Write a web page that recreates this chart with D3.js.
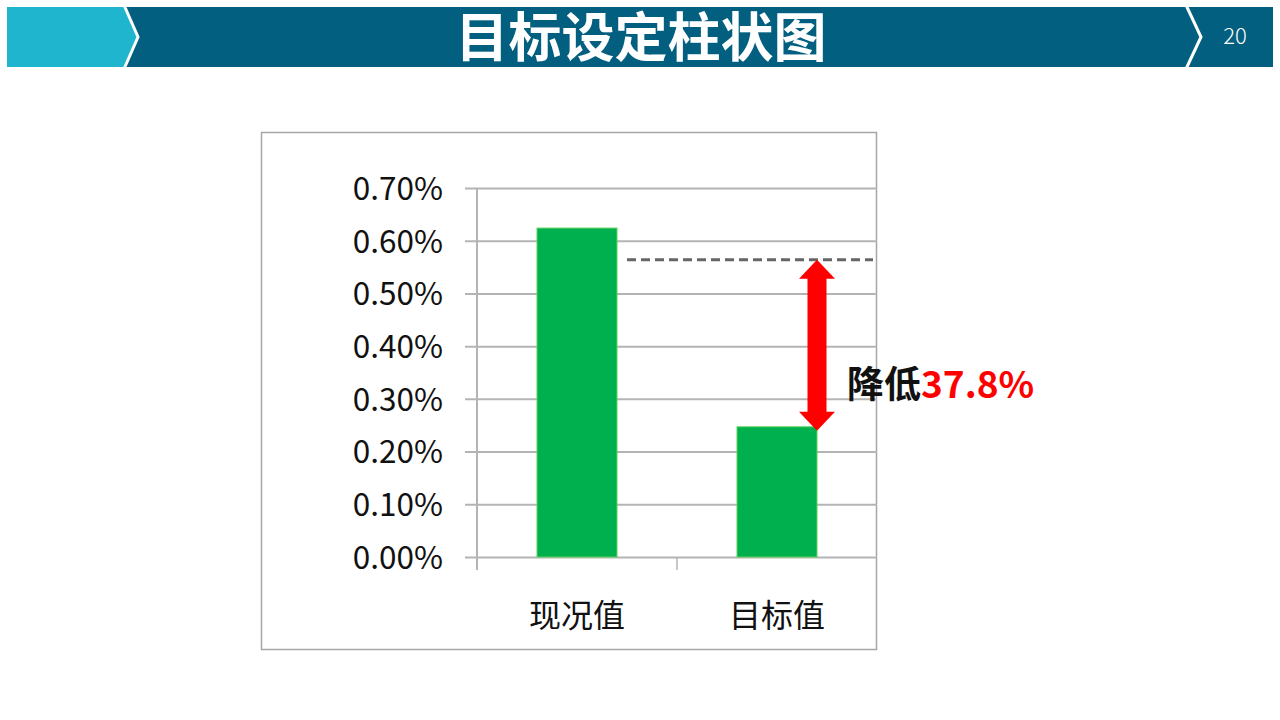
<!DOCTYPE html>
<html>
<head>
<meta charset="utf-8">
<script src="https://cdn.jsdelivr.net/npm/d3@7"></script>
<style>
  html, body { margin: 0; padding: 0; background: #fff; }
  svg { display: block; }
  text { font-family: "Noto Sans CJK SC", "Noto Sans", sans-serif; }
</style>
</head>
<body>
<div id="chart"></div>
<script>
// data
const categories = ['现况值', '目标值'];
const values = [0.00624, 0.00247];
const yTicks = [0, 0.001, 0.002, 0.003, 0.004, 0.005, 0.006, 0.007];
const refLine = 0.00564;
const title = '目标设定柱状图';
const pageNum = '20';
const dropLabel = '降低';
const dropValue = '37.8%';

const W = 1280, H = 720;
const svg = d3.select('#chart').append('svg').attr('width', W).attr('height', H);

// header band
const $head = svg.append('g').attr('class', 'header');
$head.append('rect').attr('x', 7).attr('y', 7).attr('width', 1266).attr('height', 60).attr('fill', '#035f80');
$head.append('path').attr('d', 'M7,7 L124,7 L138,37 L124,67 L7,67 Z').attr('fill', '#1fb5cf');
$head.append('path').attr('d', 'M124,5 L138,37 L124,69').attr('fill', 'none').attr('stroke', '#fff').attr('stroke-width', 3);
$head.append('path').attr('d', 'M1186,5 L1201,37 L1186,69').attr('fill', 'none').attr('stroke', '#fff').attr('stroke-width', 3);
$head.append('text').attr('x', 641).attr('y', 57).attr('text-anchor', 'middle')
  .attr('fill', '#fff').attr('font-size', 53).attr('font-weight', 700).text(title);
$head.append('text').attr('x', 1235).attr('y', 44).attr('text-anchor', 'middle')
  .attr('fill', '#fff').attr('font-size', 22).attr('font-family', 'Roboto, sans-serif').attr('font-weight', 300).text(pageNum);

// chart frame
svg.append('rect').attr('x', 261.5).attr('y', 132.5).attr('width', 615).attr('height', 517)
  .attr('fill', '#fff').attr('stroke', '#a6a6a6').attr('stroke-width', 1.5);

const plotL = 477, plotR = 877, plotT = 188, plotB = 557;
const x = d3.scaleBand().domain(categories).range([plotL, plotR]).paddingInner(0.6).paddingOuter(0.3);
const y = d3.scaleLinear().domain([0, 0.007]).range([plotB, plotT]);

// grid + y axis
const yAxis = d3.axisLeft(y).tickValues(yTicks).tickFormat(d3.format('.2%'))
  .tickSize(-(plotR - plotL)).tickPadding(34);
const $y = svg.append('g').attr('transform', `translate(${plotL},0)`).call(yAxis);
$y.select('.domain').remove();
$y.selectAll('.tick line').attr('x1', -12).attr('stroke', '#b4b4b4').attr('stroke-width', 2);
$y.selectAll('.tick text').attr('font-size', 31.5).attr('fill', '#111')
  .attr('font-family', '"Noto Sans CJK SC", sans-serif').attr('dy', '0.36em');

// y axis line
svg.append('line').attr('x1', plotL).attr('x2', plotL).attr('y1', plotT).attr('y2', plotB + 13)
  .attr('stroke', '#b4b4b4').attr('stroke-width', 2);

// category ticks
const catEdges = [plotL + (plotR - plotL) / 2];
svg.selectAll('.cat-tick').data(catEdges).enter().append('line')
  .attr('x1', d => d).attr('x2', d => d).attr('y1', plotB).attr('y2', plotB + 13)
  .attr('stroke', '#b4b4b4').attr('stroke-width', 1.5);

// bars
svg.selectAll('.bar').data(values).enter().append('rect')
  .attr('x', (d, i) => x(categories[i]))
  .attr('y', d => y(d))
  .attr('width', x.bandwidth())
  .attr('height', d => plotB - y(d))
  .attr('fill', '#00b04f').attr('stroke', '#5fd35f').attr('stroke-width', 1);

// category labels
svg.selectAll('.cat').data(categories).enter().append('text')
  .attr('x', d => x(d) + x.bandwidth() / 2).attr('y', 627)
  .attr('text-anchor', 'middle').attr('font-size', 32).attr('fill', '#111').text(d => d);

// dashed reference line
svg.append('line').attr('x1', x(categories[0]) + x.bandwidth() + 10).attr('x2', plotR - 4)
  .attr('y1', y(refLine)).attr('y2', y(refLine))
  .attr('stroke', '#666').attr('stroke-width', 3).attr('stroke-dasharray', '9,5');

// red double arrow
const ax = x(categories[1]) + x.bandwidth();
const y0 = y(refLine), y1 = y(values[1]) + 4;
const hw = 18, sw = 9.5, hl = 19;
svg.append('path').attr('fill', '#ff0000').attr('d', [
  `M${ax},${y0}`,
  `L${ax + hw},${y0 + hl}`, `L${ax + sw},${y0 + hl}`,
  `L${ax + sw},${y1 - hl}`, `L${ax + hw},${y1 - hl}`,
  `L${ax},${y1}`,
  `L${ax - hw},${y1 - hl}`, `L${ax - sw},${y1 - hl}`,
  `L${ax - sw},${y0 + hl}`, `L${ax - hw},${y0 + hl}`, 'Z'
].join(' '));

// label
const $lab = svg.append('text').attr('x', 847).attr('y', 398).attr('font-size', 37).attr('font-weight', 700);
$lab.append('tspan').attr('fill', '#111').text(dropLabel);
$lab.append('tspan').attr('fill', '#ff0000').text(dropValue);
</script>
</body>
</html>
